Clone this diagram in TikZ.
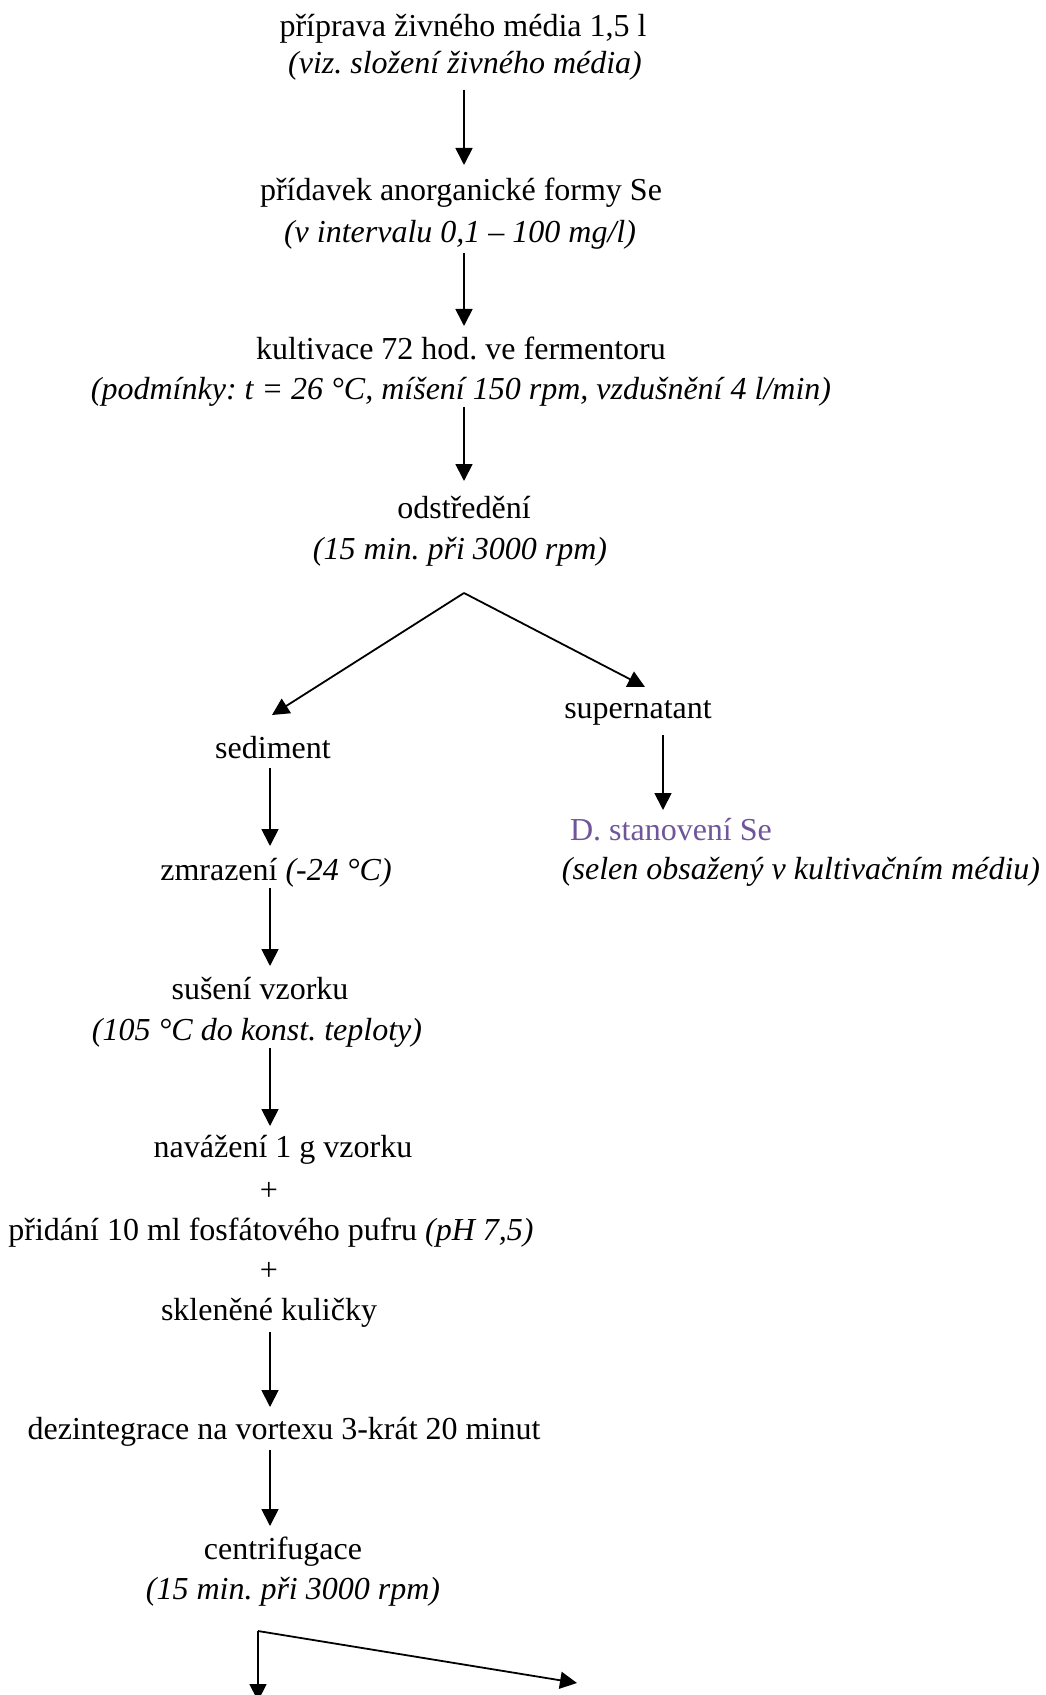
\documentclass[tikz,border=0pt]{standalone}
\usepackage{fontspec}
\setmainfont{Liberation Serif}
\usetikzlibrary{arrows.meta,calc}
\definecolor{headpurple}{HTML}{6F559A}
\frenchspacing
\begin{document}
\begin{tikzpicture}[x=0.5pt,y=-0.5pt,
  lbl/.style={anchor=base, inner sep=0pt, font=\fontsize{16pt}{19pt}\selectfont},
  arr/.style={line width=0.9pt, -{Triangle[length=8.5pt,width=8.5pt]}}]
\useasboundingbox (0,0) rectangle (1045,1695);

% arrow columns
\coordinate (colM) at (464,0);
\coordinate (colL) at (270,0);
\coordinate (colR) at (663,0);

% main column
\node[lbl] (prip)  at (463,37)  {příprava živného média 1,5 l};
\node[lbl] (prip2) at (465,74)  {\itshape (viz. složení živného média)};
\node[lbl] (prid)  at (461,201) {přídavek anorganické formy Se};
\node[lbl] (prid2) at (460,243) {\itshape (v intervalu 0,1 – 100 mg/l)};
\node[lbl] (kult)  at (461,360) {kultivace 72 hod. ve fermentoru};
\node[lbl] (kult2) at (461,400) {\itshape (podmínky: t = 26 °C, míšení 150 rpm, vzdušnění 4 l/min)};
\node[lbl] (odst)  at (464,518) {odstředění};
\node[lbl] (odst2) at (460,559) {\itshape (15 min. při 3000 rpm)};

% right branch
\node[lbl] (sup)   at (638,718) {supernatant};
\node[lbl, text=headpurple] (stan) at (671,840) {D. stanovení Se};
\node[lbl] (stan2) at (801,879) {\itshape (selen obsažený v kultivačním médiu)};

% left branch
\node[lbl] (sed)   at (273,758)  {sediment};
\node[lbl] (zmr)   at (276,880)  {zmrazení \textit{(-24 °C)}};
\node[lbl] (sus)   at (260,999)  {sušení vzorku};
\node[lbl] (sus2)  at (257,1040) {\itshape (105 °C do konst. teploty)};
\node[lbl] (naw)   at (283,1157) {navážení 1 g vzorku};
\node[lbl] (plus1) at (269,1200) {+};
\node[lbl] (pufr)  at (271,1240) {přidání 10 ml fosfátového pufru \textit{(pH 7,5)}};
\node[lbl] (plus2) at (269,1280) {+};
\node[lbl] (skl)   at (269,1320) {skleněné kuličky};
\node[lbl] (dez)   at (284,1439) {dezintegrace na vortexu 3-krát 20 minut};
\node[lbl] (cent)  at (283,1559) {centrifugace};
\node[lbl] (cent2) at (293,1599) {\itshape (15 min. při 3000 rpm)};

% main column arrows
\draw[arr] ($(prip2.base -| colM)+(0,16)$) -- ($(prid.base -| colM)+(0,-36)$);
\draw[arr] ($(prid2.base -| colM)+(0,10)$) -- ($(kult.base -| colM)+(0,-34)$);
\draw[arr] ($(kult2.base -| colM)+(0,7)$)  -- ($(odst.base -| colM)+(0,-37)$);

% first split
\coordinate (fork1) at ($(odst2.base -| colM)+(0,34)$);
\draw[arr] (fork1) -- ($(sed.base)+(-1,-43)$);
\draw[arr] (fork1) -- ($(sup.base)+(7,-31)$);
\draw[arr] ($(sup.base -| colR)+(0,17)$) -- ($(stan.base -| colR)+(0,-30)$);

% left column arrows
\draw[arr] ($(sed.base -| colL)+(0,10)$)  -- ($(zmr.base -| colL)+(0,-34)$);
\draw[arr] ($(zmr.base -| colL)+(0,8)$)   -- ($(sus.base -| colL)+(0,-33)$);
\draw[arr] ($(sus2.base -| colL)+(0,8)$)  -- ($(naw.base -| colL)+(0,-31)$);
\draw[arr] ($(skl.base -| colL)+(0,12)$)  -- ($(dez.base -| colL)+(0,-32)$);
\draw[arr] ($(dez.base -| colL)+(0,11)$)  -- ($(cent.base -| colL)+(0,-33)$);

% second split
\coordinate (fork2) at ($(cent2.base)+(-35,32)$);
\coordinate (endL) at ($(fork2)+(0,70)$);
\coordinate (endR) at (577,1683);
\draw[arr] (fork2) -- (endL);
\draw[arr] (fork2) -- (endR);
\end{tikzpicture}
\end{document}
